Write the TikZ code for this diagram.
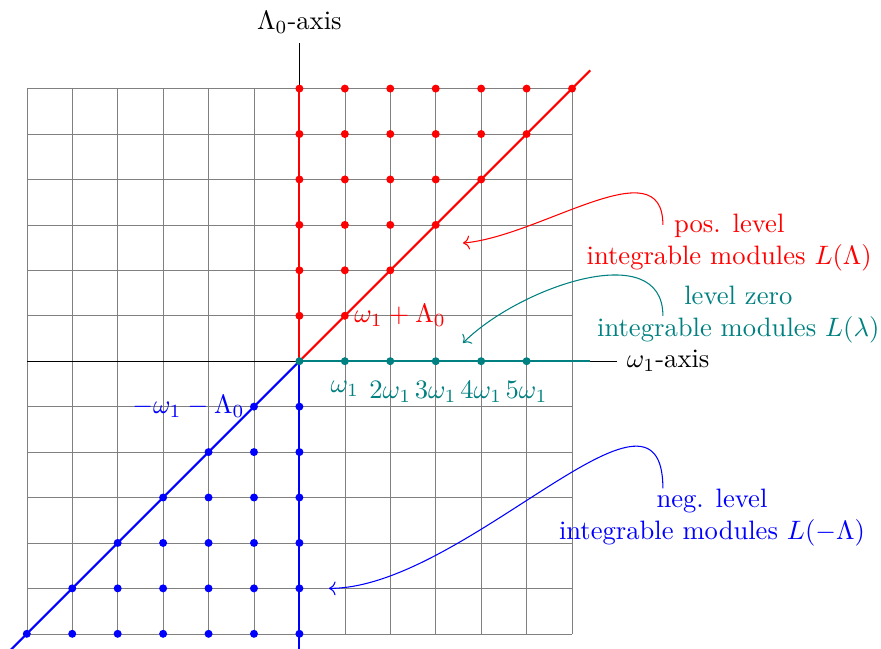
\documentclass[tikz,border=0pt]{standalone}
\usepackage{amsmath,amssymb}
\usepackage{tikz}
\usetikzlibrary{arrows.meta, positioning}

\begin{document}
\begin{tikzpicture}[
  x=0.6cm, y=0.6cm,
  axisline/.style={black},
  posline/.style={red, thick},
  zeroline/.style={teal, thick},
  negline/.style={blue, thick},
  weight/.style={circle, fill, inner sep=0pt, minimum size=3pt},
  note/.style={align=center},
  pointer/.style={->}
]
  \useasboundingbox (-6.59,-6.32) rectangle (12.80,7.95);

  % lattice and axes
  \draw[help lines, step=0.6cm] (-6,-6) grid (6,6);
  \coordinate (O) at (0,0);
  \coordinate (xstart) at (-6,0);
  \coordinate (xend) at (7,0);
  \coordinate (ybot) at (0,-6.4);
  \coordinate (ytop) at (0,7);
  \draw[axisline] (xstart) -- (xend);
  \draw[axisline] (ybot) -- (ytop);
  \node[right] (xlabel) at (xend) {$\omega_1$-axis};
  \node[above] (ylabel) at (ytop) {$\Lambda_0$-axis};

  % the three cones
  \coordinate (ptop) at (0,6);
  \coordinate (pdiag) at (6.4,6.4);
  \coordinate (zend) at (6.4,0);
  \coordinate (nbot) at (0,-6.4);
  \coordinate (ndiag) at (-6.4,-6.4);
  \draw[posline] (O) -- (ptop);
  \draw[posline] (O) -- (pdiag);
  \draw[zeroline] (O) -- (zend);
  \draw[negline] (O) -- (nbot);
  \draw[negline] (O) -- (ndiag);

  % dominant weights
  \foreach \j in {1,...,6}
    \foreach \i in {0,...,\j}
      \node[weight, red] (p\i\j) at (\i,\j) {};
  \foreach \i in {0,...,5}
    \node[weight, teal] (z\i) at (\i,0) {};
  \foreach \j in {1,...,6}
    \foreach \i in {0,...,\j}
      \node[weight, blue] (n\i\j) at (-\i,-\j) {};

  \node[right, red] (plabel) at (p11) {$\omega_1+\Lambda_0$};
  \node[left, blue] (nlabel) at (n11) {$-\omega_1-\Lambda_0$};
  \foreach \i/\t in {1/,2/2,3/3,4/4,5/5}
    \node[below=4pt, teal] (zl\i) at (z\i) {$\t\omega_1$};

  % annotations
  \node[note, red] (posnote) at (9.46,2.62) {pos. level\\integrable modules $L(\Lambda)$};
  \node[note, teal] (zeronote) at (9.66,1.03) {level zero\\integrable modules $L(\lambda)$};
  \node[note, blue] (negnote) at (9.08,-3.44) {neg. level\\integrable modules $L(-\Lambda)$};
  \coordinate (posfrom) at (8,3);
  \coordinate (posto) at (3.6,2.6);
  \coordinate (zerofrom) at (8,1);
  \coordinate (zeroto) at (3.6,0.4);
  \coordinate (negfrom) at (8,-2.8);
  \coordinate (negto) at (0.65,-5);
  \draw[pointer, red] (posfrom) to[out=90, in=5] (posto);
  \draw[pointer, teal] (zerofrom) to[out=90, in=45] (zeroto);
  \draw[pointer, blue] (negfrom) to[out=90, in=0] (negto);
\end{tikzpicture}
\end{document}
